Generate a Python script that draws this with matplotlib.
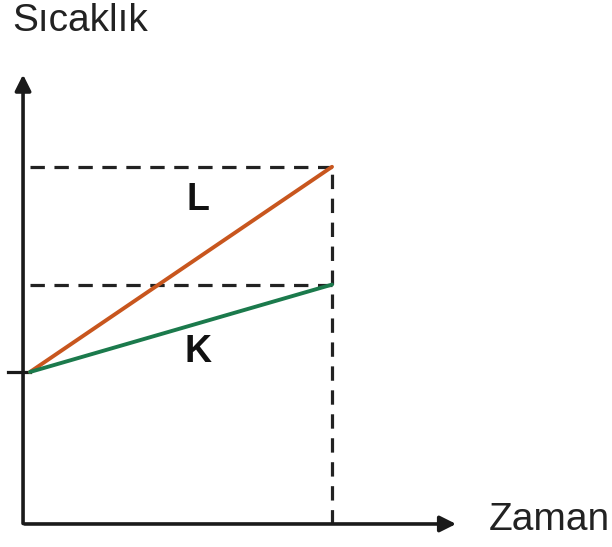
import matplotlib.pyplot as plt

# zaman ve sicaklik degerleri
zaman = [0, 10]
sicaklik_L = [2.0, 4.7]
sicaklik_K = [2.0, 3.15]
renk_L = '#c8561e'
renk_K = '#1b7a4c'

plt.rcParams['font.family'] = ['Liberation Sans', 'DejaVu Sans']

fig = plt.figure(figsize=(6.12, 5.47), dpi=100)
ax = fig.add_axes([0, 0, 1, 1])
ax.set_xlim(-0.993, 19.27)
ax.set_ylim(-0.303, 6.895)
ax.axis('off')

x0 = -0.23
# eksenler (oklu)
ax.annotate('', xy=(x0, 5.95), xytext=(x0, -0.03),
            arrowprops=dict(arrowstyle='-|>', color='#1a1a1a', lw=2.6, mutation_scale=24))
ax.annotate('', xy=(14.2, 0), xytext=(x0 - 0.04, 0),
            arrowprops=dict(arrowstyle='-|>', color='#1a1a1a', lw=2.6, mutation_scale=24))

# kesikli cizgiler
for T in [sicaklik_L[1], sicaklik_K[1]]:
    l, = ax.plot([zaman[0], zaman[1]], [T, T], color='#222222', lw=2.3)
    l.set_dashes((4.5, 3))
l, = ax.plot([zaman[1], zaman[1]], [0, sicaklik_L[1]], color='#222222', lw=2.3)
l.set_dashes((4.5, 3))

# baslangic isareti
ax.plot([-0.73, zaman[0]], [sicaklik_L[0], sicaklik_L[0]], color='#1a1a1a', lw=2.3)

ax.plot(zaman, sicaklik_L, color=renk_L, lw=2.8, solid_capstyle='round')
ax.plot(zaman, sicaklik_K, color=renk_K, lw=2.8, solid_capstyle='round')

ax.text(5.55, 4.26, 'L', fontsize=27, fontweight='bold', ha='center', va='center', color='#111111')
ax.text(5.55, 2.26, 'K', fontsize=27, fontweight='bold', ha='center', va='center', color='#111111')

ax.text(-0.58, 6.62, 'Sıcaklık', fontsize=28, ha='left', va='center', color='#222222')
ax.text(15.2, 0.05, 'Zaman', fontsize=28, ha='left', va='center', color='#222222')

fig.savefig('out.png', dpi=100)
